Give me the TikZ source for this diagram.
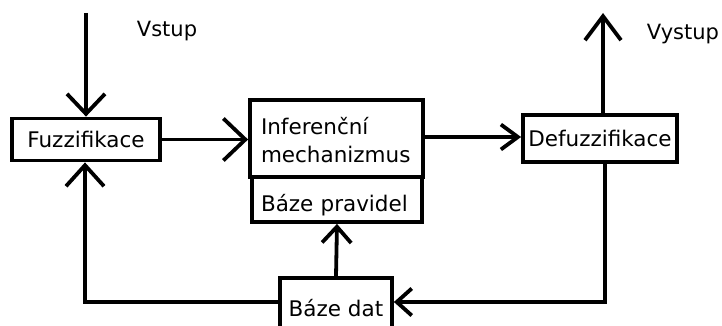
\documentclass[tikz,border=0pt]{standalone}
\usepackage{fontspec}
\setmainfont{DejaVu Sans}
\usetikzlibrary{arrows.meta}

% shift text down inside its box without changing the box's size
\newcommand{\lowered}[2]{\raisebox{-#1}[\height][\depth]{#2}}

\tikzset{
  block/.style={draw, line width=3.8pt, rectangle, inner sep=0pt, align=center,
                font=\fontsize{21.5}{28}\selectfont},
  link/.style={line width=3.8pt},
  tip/.style 2 args={-{Straight Barb[length=#1pt, width=#2pt]}},
  caption/.style={font=\fontsize{21}{24}\selectfont, inner sep=0pt}
}

\begin{document}
\begin{tikzpicture}[x=1pt, y=-1pt]
  \useasboundingbox (0,0) rectangle (722,326);
  \clip (0,0) rectangle (722,326);

  % processing blocks
  \node[block, minimum width=148pt, minimum height=42pt] (fuzz) at (86,139.5) {Fuzzifikace};
  \node[block, minimum height=77pt, text width=151pt, inner xsep=11pt, align=left]
       (inf) at (336.5,138.5) {\lowered{2pt}{Inferenční}\\\lowered{2pt}{mechanizmus}};
  \node[block, minimum height=45pt, text width=152pt, inner xsep=9pt, align=left]
       (rules) at (337,199.5) {\lowered{6pt}{Báze pravidel}};
  \node[block, minimum width=154pt, minimum height=47pt] (defuzz) at (600,138.5) {Defuzzifikace};
  \node[block, minimum width=112pt, minimum height=60pt] (dat) at (336,308) {Báze dat};

  % input / output labels
  \node[caption] (vstup) at (167,31) {Vstup};
  \node[caption] (vystup) at (683,34) {Vystup};

  % free ends of the connectors
  \coordinate (in) at (86,13);
  \coordinate (out) at (603,13);
  \coordinate (rc) at (605,302);
  \coordinate (lc) at (85,302);

  % forward path
  \draw[link, tip={20}{38}] (in) -- (in |- fuzz.north);
  \draw[link, tip={22}{42}] (fuzz.east) -- (fuzz.east -| inf.west);
  \draw[link, tip={17}{25}] (inf.east |- 0,137) -- (defuzz.west |- 0,137);
  \draw[link, tip={24}{36}] (out |- defuzz.north) -- (out);

  % feedback through the data base
  \draw[link, tip={15}{27}] (rc |- defuzz.south) -- (rc) -- (dat.east |- rc);
  \draw[link, tip={16}{29}] (dat.north) -- (rules.south);
  \draw[link, tip={21}{38}] (dat.west |- lc) -- (lc) -- (lc |- fuzz.south);
\end{tikzpicture}
\end{document}
